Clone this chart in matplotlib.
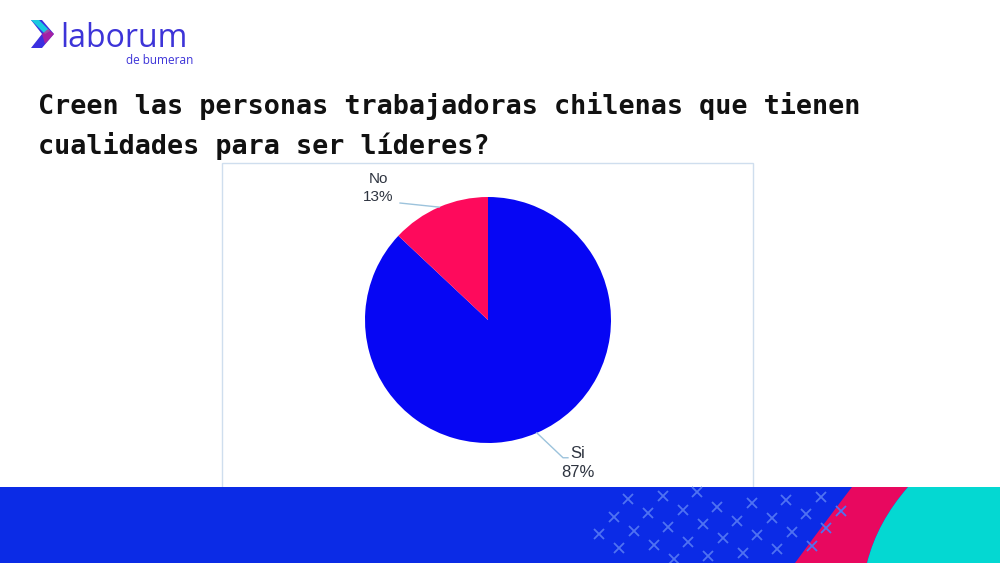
import matplotlib.pyplot as plt
import matplotlib.patches as mpatches
from matplotlib.path import Path
import numpy as np

# data
labels = ['Si', 'No']
values = [87, 13]
colors = ['#0606f4', '#fe0a5c']
title = 'Creen las personas trabajadoras chilenas que tienen\ncualidades para ser líderes?'

fig = plt.figure(figsize=(10, 5.63), dpi=100)

# overlay axes in pixel coords for the slide decoration
bg = fig.add_axes([0, 0, 1, 1])
bg.set_xlim(0, 1000)
bg.set_ylim(563, 0)
bg.axis('off')

# chart frame
bg.add_patch(mpatches.Rectangle((222, 163), 531, 330, fill=False, ec='#cfdeee', lw=1))

# title
bg.text(38, 126, title, fontsize=19.3, family='DejaVu Sans Mono', weight='bold',
        color='#111111', va='center', ha='left', linespacing=1.55)

# logo
chev = [(31, 20), (42, 20), (54, 34), (42, 48), (31, 48), (42, 34)]
bg.add_patch(mpatches.Polygon(chev, closed=True, fc='#3b2fe0', ec='none'))
bg.add_patch(mpatches.Polygon([(31, 20), (39, 20), (50, 31), (45, 34)], closed=True, fc='#19c9e0', ec='none'))
bg.add_patch(mpatches.Polygon([(42, 34), (48, 29), (54, 34), (45, 44)], closed=True, fc='#d01a8c', ec='none', alpha=0.7))
bg.text(60, 47, 'laborum', fontsize=23, family='Open Sans', color='#3d34d8', va='baseline', ha='left')
bg.text(193, 64, 'de bumeran', fontsize=8.5, family='Open Sans', color='#3d34d8', va='baseline', ha='right')

# bottom banner
bg.add_patch(mpatches.Rectangle((0, 487), 1000, 76, fc='#0b2be6', ec='none'))
for r in range(5):
    for c in range(8):
        x = 628 + c * 34.5 - r * 14.5
        y = 499 - c * 3.3 + r * 17.5
        if 585 < x < 845 and 492 < y < 562:
            bg.plot(x, y, marker='x', ms=7, mew=1.3, color='#4f72f2')
pink = Path([(852, 487), (908, 487), (888, 510), (874, 535), (867, 563), (795, 563), (825, 522), (852, 487)],
            [Path.MOVETO, Path.LINETO, Path.CURVE4, Path.CURVE4, Path.CURVE4, Path.LINETO, Path.CURVE3, Path.CURVE3])
bg.add_patch(mpatches.PathPatch(pink, fc='#e8085f', ec='none'))
cyan = Path([(908, 487), (1000, 487), (1000, 563), (867, 563), (874, 535), (888, 510), (908, 487)],
            [Path.MOVETO, Path.LINETO, Path.LINETO, Path.LINETO, Path.CURVE4, Path.CURVE4, Path.CURVE4])
bg.add_patch(mpatches.PathPatch(cyan, fc='#04d8d2', ec='none'))

# pie
cx, cy, rad = 488, 320, 123
ax = fig.add_axes([(cx - rad) / 1000, (563 - cy - rad) / 563, 2 * rad / 1000, 2 * rad / 563])
wedges, _ = ax.pie(values, colors=colors, startangle=90, counterclock=False, radius=1)
ax.set_xlim(-1, 1)
ax.set_ylim(-1, 1)

lab_col = '#2e3440'
line_col = '#9cc3dc'
for w, lab, v in zip(wedges, labels, values):
    mid = np.deg2rad((w.theta1 + w.theta2) / 2)
    ex, ey = np.cos(mid), np.sin(mid)
    if ex < 0:
        ax.plot([ex, -0.715], [ey, 0.951], color=line_col, lw=1, clip_on=False)
        ax.text(-0.89, 1.07, f'{lab}\n{v}%', ha='center', va='center', fontsize=11,
                family='Liberation Sans', color=lab_col, linespacing=1.35, clip_on=False)
    else:
        ax.plot([ex, 0.61, 0.65], [ey, -1.12, -1.12], color=line_col, lw=1, clip_on=False)
        ax.text(0.73, -1.165, f'{lab}\n{v}%', ha='center', va='center', fontsize=12,
                family='Liberation Sans', color=lab_col, linespacing=1.35, clip_on=False)

fig.savefig('out.png', dpi=100)
